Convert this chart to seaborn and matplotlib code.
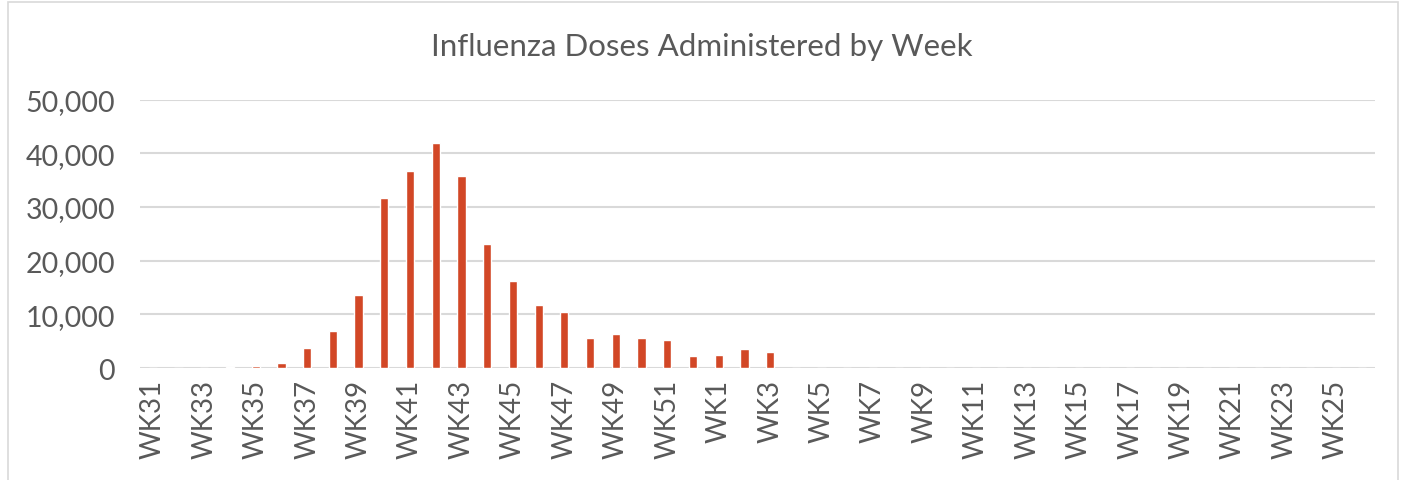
import pandas as pd
import matplotlib.pyplot as plt
import seaborn as sns
from matplotlib.patches import Rectangle

sns.set_theme(style="white")
plt.rcParams['font.family'] = ['Lato', 'DejaVu Sans']

# Semanas de la temporada (WK31 a WK52 y WK1 a WK26)
semanas = ['WK' + str(s) for s in range(31, 53)] + ['WK' + str(s) for s in range(1, 27)]

dosis = [0, 0, 30, 100, 300, 930, 3670, 6900, 13680, 31660, 36760, 41920,
         35700, 23130, 16290, 11750, 10390, 5660, 6400, 5660, 5220, 2300,
         2490, 3610, 3050] + [0] * 23

df_dosis = pd.DataFrame({'semana': semanas, 'dosis': dosis})

gris_texto = '#595959'

fig = plt.figure(figsize=(14.04, 4.81), dpi=100)
ax = fig.add_axes([0.0997, 0.2328, 0.8793, 0.5578])

# Marco del área del gráfico
fig.patches.append(Rectangle((8 / 1404, -0.1), 1390 / 1404, 1.1 - 3 / 481,
                             transform=fig.transFigure, fill=False,
                             edgecolor='#D9D9D9', linewidth=1.2))

sns.barplot(data=df_dosis, x='semana', y='dosis', order=semanas,
            color='#D24726', width=0.32, saturation=1, ax=ax, zorder=3)

ax.set_ylim(0, 50000)
ax.set_xlim(-0.5, len(semanas) - 0.5)
ax.set_yticks(range(0, 50001, 10000))
ax.set_yticklabels([f'{v:,}' for v in range(0, 50001, 10000)])
ax.set_xticks(range(0, len(semanas), 2))
ax.set_xticklabels(semanas[::2], rotation=90)

ax.yaxis.grid(True, color='#D9D9D9', linewidth=1.5, zorder=0)
ax.set_axisbelow(True)
for lado in ax.spines.values():
    lado.set_visible(False)

ax.tick_params(axis='y', length=0, pad=18, labelsize=20.5, labelcolor=gris_texto)
ax.tick_params(axis='x', length=0, pad=8, labelsize=20, labelcolor=gris_texto)
ax.set_xlabel('')
ax.set_ylabel('')

fig.text(0.5, 1 - 47 / 481, 'Influenza Doses Administered by Week',
         ha='center', va='center', fontsize=22.5, color=gris_texto)

fig.savefig('out.png', dpi=100)
